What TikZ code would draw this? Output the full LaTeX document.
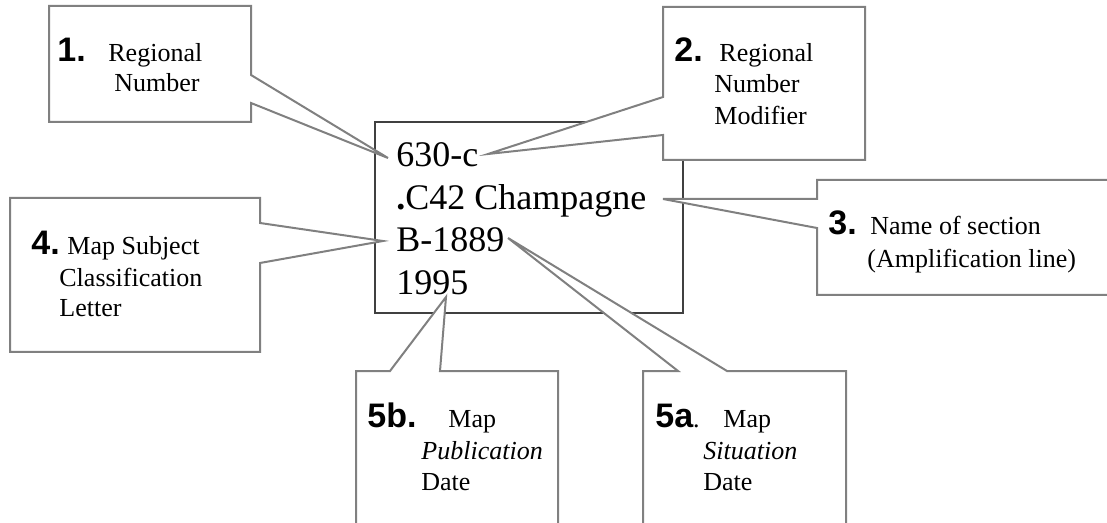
\documentclass[tikz,border=0pt]{standalone}
\usepackage{fontspec}
\setmainfont{Liberation Serif}
\newfontfamily\numFont{Liberation Sans}
\newcommand{\pxUnit}{0.5pt}
\newcommand{\labelSize}{\fontsize{13}{16}\selectfont}
\newcommand{\numSize}{\fontsize{17}{20}\selectfont}
\newcommand{\cardSize}{\fontsize{18}{21.5}\selectfont}
\definecolor{calloutGray}{RGB}{128,128,128}
\definecolor{cardGray}{RGB}{64,64,64}

\begin{document}
\begin{tikzpicture}[x=\pxUnit, y=-\pxUnit,
  callout/.style={draw=calloutGray, line width=1pt, fill=white},
  card/.style={draw=cardGray, line width=1pt},
  num/.style={inner sep=0pt, anchor=base west, font=\numFont\bfseries\numSize},
  lab/.style={inner sep=0pt, anchor=base west, font=\labelSize},
  cardline/.style={inner sep=0pt, anchor=base west, font=\cardSize}]
\useasboundingbox (0,0) rectangle (1107,523);
\clip (0,0) rectangle (1107,523);

% the catalogue card
\draw[card] (375,122) rectangle (683,313);

% where the callouts point
\coordinate (tip1) at (388,158);
\coordinate (tip2) at (488,154);
\coordinate (tip3) at (663,199);
\coordinate (tip4) at (383,241);
\coordinate (tip5b) at (446,297);
\coordinate (tip5a) at (508,238);

% callout boxes
\draw[callout] (49,6) -- (251,6) -- (251,75) -- (tip1) -- (251,103) -- (251,122) -- (49,122) -- cycle;
\draw[callout] (663,7) -- (865,7) -- (865,160) -- (663,160) -- (663,135) -- (tip2) -- (663,97) -- cycle;
\draw[callout] (817,180) -- (1130,180) -- (1130,295) -- (817,295) -- (817,228) -- (tip3) -- (817,199) -- cycle;
\draw[callout] (10,198) -- (260,198) -- (260,223) -- (tip4) -- (260,263) -- (260,352) -- (10,352) -- cycle;
\draw[callout] (356,371) -- (390,371) -- (tip5b) -- (440,371) -- (558,371) -- (558,540) -- (356,540) -- cycle;
\draw[callout] (643,371) -- (678,371) -- (tip5a) -- (727,371) -- (846,371) -- (846,540) -- (643,540) -- cycle;

% card text
\node[cardline] (line1) at (396,167) {630-c};
\node[cardline] (line2) at (396,210) {\textbf{.}C42 Champagne};
\node[cardline] (line3) at (396,252) {B-1889};
\node[cardline] (line4) at (396,295) {1995};

% labels
\node[num] (n1) at (57,62) {1.};
\node[lab] (t1a) at (108,62) {Regional};
\node[lab] (t1b) at (114,92) {Number};

\node[num] (n2) at (674,62) {2.};
\node[lab] (t2a) at (719,62) {Regional};
\node[lab] (t2b) at (714,93) {Number};
\node[lab] (t2c) at (714,125) {Modifier};

\node[num] (n3) at (828,235) {3.};
\node[lab] (t3a) at (870,235) {Name of section};
\node[lab] (t3b) at (867,268) {(Amplification line)};

\node[num] (n4) at (31,255) {4.};
\node[lab] (t4a) at (67,255) {Map Subject};
\node[lab] (t4b) at (59,287) {Classification};
\node[lab] (t4c) at (59,317) {Letter};

\node[num] (n5b) at (367,427) {5b.};
\node[lab] (t5ba) at (448,427) {Map};
\node[lab] (t5bb) at (421,459) {\itshape Publication};
\node[lab] (t5bc) at (421,490) {Date};

\node[num] (n5a) at (655,427) {5a\normalfont\labelSize.};
\node[lab] (t5aa) at (723,427) {Map};
\node[lab] (t5ab) at (703,459) {\itshape Situation};
\node[lab] (t5ac) at (703,490) {Date};
\end{tikzpicture}
\end{document}
